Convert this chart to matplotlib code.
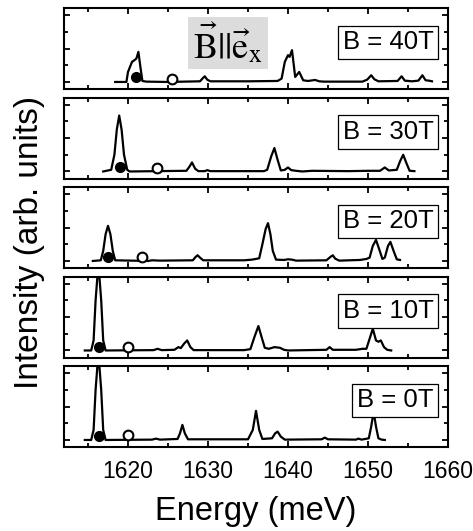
import numpy as np
import matplotlib
matplotlib.use('Agg')
import matplotlib.pyplot as plt
from matplotlib.patches import Rectangle
from matplotlib.ticker import MultipleLocator

plt.rcParams['font.family'] = ['Liberation Sans', 'DejaVu Sans']
plt.rcParams['mathtext.fontset'] = 'stix'

# panel labels, top to bottom
fields = ['B = 40T', 'B = 30T', 'B = 20T', 'B = 10T', 'B = 0T']

# spectra: energy (meV) and intensity (arb. units)
e_40 = [1618.4, 1619.8, 1620.0, 1620.5, 1620.8, 1621.05, 1621.3, 1621.55, 1621.8, 1622.3,
        1625.0, 1629.0, 1629.3, 1629.6, 1629.9, 1630.3, 1635.0, 1638.7, 1639.2, 1639.6,
        1640.0, 1640.2, 1640.5, 1640.9, 1641.4, 1641.9, 1642.5, 1643.4, 1643.9, 1644.5,
        1649.3, 1649.9, 1650.4, 1650.8, 1651.3, 1653.7, 1654.2, 1654.6, 1655.5, 1656.3,
        1656.8, 1657.2, 1657.6, 1658.0]
i_40 = [0.0, 0.0, 0.3, 0.6, 0.65, 0.7, 0.9, 0.45, 0.03, 0.01,
        0.0, 0.02, 0.1, 0.17, 0.07, 0.02, 0.02, 0.03, 0.1, 0.6,
        0.8, 0.75, 0.95, 0.15, 0.3, 0.05, 0.03, 0.06, 0.02, 0.01,
        0.01, 0.07, 0.2, 0.08, 0.02, 0.03, 0.17, 0.04, 0.02, 0.04,
        0.2, 0.05, 0.04, 0.02]

e_30 = [1616.9, 1617.9, 1618.3, 1618.6, 1618.9, 1619.2, 1619.5, 1619.9, 1620.2, 1627.3,
        1627.7, 1628.0, 1628.4, 1628.8, 1629.6, 1629.9, 1630.3, 1637.0, 1637.4, 1637.9,
        1638.3, 1638.7, 1639.1, 1639.6, 1640.0, 1640.4, 1641.0, 1641.8, 1643.0, 1647.5,
        1650.0, 1651.5, 1652.1, 1652.6, 1653.6, 1654.0, 1654.4, 1654.8, 1655.2, 1655.8]
i_30 = [0.0, 0.05, 0.5, 1.25, 1.67, 1.25, 0.5, 0.05, 0.0, 0.02,
        0.15, 0.27, 0.08, 0.01, 0.01, 0.04, 0.01, 0.01, 0.05, 0.45,
        0.7, 0.35, 0.03, 0.05, 0.12, 0.04, 0.02, 0.0, 0.02, 0.01,
        0.02, 0.02, 0.12, 0.03, 0.05, 0.3, 0.5, 0.25, 0.02, 0.01]

e_20 = [1615.6, 1616.6, 1616.9, 1617.2, 1617.5, 1617.8, 1618.1, 1618.4, 1622.5, 1623.0,
        1624.0, 1628.1, 1628.45, 1628.7, 1629.0, 1629.4, 1634.5, 1635.5, 1636.4, 1636.8,
        1637.2, 1637.5, 1637.8, 1638.1, 1638.5, 1639.5, 1640.0, 1640.5, 1641.0, 1644.8,
        1645.3, 1645.6, 1645.9, 1646.4, 1649.0, 1649.8, 1650.2, 1650.6, 1651.0, 1651.4,
        1651.8, 1652.1, 1652.5, 1652.8, 1653.2, 1653.6, 1654.0]
i_20 = [0.0, 0.02, 0.3, 0.8, 1.05, 0.8, 0.3, 0.02, 0.0, 0.02,
        0.01, 0.02, 0.12, 0.17, 0.1, 0.02, 0.02, 0.04, 0.08, 0.5,
        0.95, 1.13, 0.8, 0.3, 0.04, 0.03, 0.05, 0.04, 0.01, 0.02,
        0.12, 0.17, 0.07, 0.01, 0.03, 0.06, 0.1, 0.45, 0.63, 0.35,
        0.06, 0.1, 0.45, 0.57, 0.3, 0.05, 0.03]

e_10 = [1614.6, 1615.4, 1615.7, 1615.95, 1616.3, 1616.65, 1616.9, 1617.2, 1623.2, 1623.7,
        1624.2, 1625.8, 1626.3, 1626.6, 1627.0, 1627.4, 1627.8, 1628.2, 1634.5, 1635.3,
        1635.8, 1636.3, 1636.7, 1637.1, 1637.6, 1638.3, 1639.0, 1639.5, 1640.0, 1644.8,
        1645.2, 1645.6, 1648.5, 1649.3, 1649.8, 1650.2, 1650.6, 1651.0, 1651.3, 1651.6,
        1652.0, 1652.4, 1652.9]
i_10 = [0.0, 0.0, 0.3, 1.5, 2.6, 1.5, 0.3, 0.0, 0.01, 0.05,
        0.01, 0.02, 0.1, 0.07, 0.2, 0.3, 0.1, 0.01, 0.01, 0.04,
        0.4, 0.73, 0.4, 0.08, 0.05, 0.1, 0.08, 0.02, 0.0, 0.02,
        0.1, 0.02, 0.02, 0.05, 0.05, 0.35, 0.65, 0.3, 0.26, 0.3,
        0.1, 0.02, 0.0]

e_0 = [1614.6, 1615.4, 1615.7, 1615.95, 1616.3, 1616.65, 1616.9, 1617.2, 1623.0, 1623.5,
       1624.0, 1626.2, 1626.5, 1626.8, 1627.1, 1627.5, 1635.0, 1635.6, 1636.0, 1636.4,
       1636.8, 1638.0, 1638.4, 1638.7, 1639.1, 1639.6, 1644.2, 1644.6, 1645.0, 1648.5,
       1648.8, 1649.2, 1650.1, 1650.4, 1650.7, 1651.0, 1651.3, 1651.7, 1652.1]
i_0 = [0.0, 0.0, 0.3, 1.5, 2.6, 1.5, 0.3, 0.0, 0.01, 0.04,
       0.01, 0.03, 0.2, 0.45, 0.2, 0.02, 0.02, 0.3, 0.87, 0.3,
       0.03, 0.05, 0.2, 0.25, 0.1, 0.01, 0.02, 0.07, 0.02, 0.01,
       0.04, 0.01, 0.05, 0.4, 0.85, 0.4, 0.05, 0.01, 0.0]

energies = [e_40, e_30, e_20, e_10, e_0]
intensities = [i_40, i_30, i_20, i_10, i_0]

# filled and open circle markers (energy, intensity)
filled_e = [1621.0, 1619.0, 1617.5, 1616.4, 1616.4]
filled_i = [0.15, 0.12, 0.13, 0.1, 0.13]
open_e = [1625.5, 1623.6, 1621.8, 1620.0, 1620.0]
open_i = [0.1, 0.1, 0.13, 0.1, 0.15]

W, H = 473, 531
fig = plt.figure(figsize=(W / 100, H / 100), dpi=100)

left, right = 64, 448
panel_h = 81
tops = [8, 97.5, 187, 276.5, 366]

axes = []
for k in range(5):
    top = tops[k]
    ax = fig.add_axes([left / W, 1 - (top + panel_h) / H, (right - left) / W, panel_h / H])
    ax.plot(energies[k], intensities[k], color='black', lw=1.6)
    ax.plot(filled_e[k], filled_i[k], 'o', color='black', ms=7)
    ax.plot(open_e[k], open_i[k], 'o', mfc='white', mec='black', mew=1.5, ms=7)

    ax.set_xlim(1612, 1660)
    ax.set_ylim(-0.21, 2.21)
    ax.xaxis.set_major_locator(MultipleLocator(10))
    ax.xaxis.set_minor_locator(MultipleLocator(5))
    ax.yaxis.set_major_locator(MultipleLocator(1))
    ax.yaxis.set_minor_locator(MultipleLocator(0.5))
    ax.tick_params(which='both', direction='in', top=True, right=True, width=1.3)
    ax.tick_params(which='major', length=4.5)
    ax.tick_params(which='minor', length=2.8)
    ax.set_yticklabels([])
    for s in ax.spines.values():
        s.set_linewidth(1.5)
    if k < 4:
        ax.set_xticklabels([])
    else:
        ax.tick_params(axis='x', labelsize=16.5, pad=9)
        ax.set_xlabel('Energy (meV)', fontsize=23.5, labelpad=10)

    ax.text(0.962, 0.575, fields[k], transform=ax.transAxes, ha='right', va='center',
            fontsize=18.5,
            bbox=dict(boxstyle='square,pad=0.18', fc='white', ec='black', lw=0.9))
    axes.append(ax)

# field direction label in the top panel
ax0 = axes[0]
ax0.add_patch(Rectangle((0.323, 0.247), 0.208, 0.642, transform=ax0.transAxes,
                        facecolor='#dcdcdc', edgecolor='none', zorder=3))
ax0.text(0.427, 0.56, r'$\vec{\mathrm{B}}||\vec{\mathrm{e}}_{\mathrm{x}}$',
         transform=ax0.transAxes, ha='center', va='center', fontsize=26, zorder=4)

fig.text(30 / W, 1 - 242 / H, 'Intensity (arb. units)', rotation=90,
         ha='center', va='center', fontsize=24)

fig.savefig('out.png', dpi=100)
